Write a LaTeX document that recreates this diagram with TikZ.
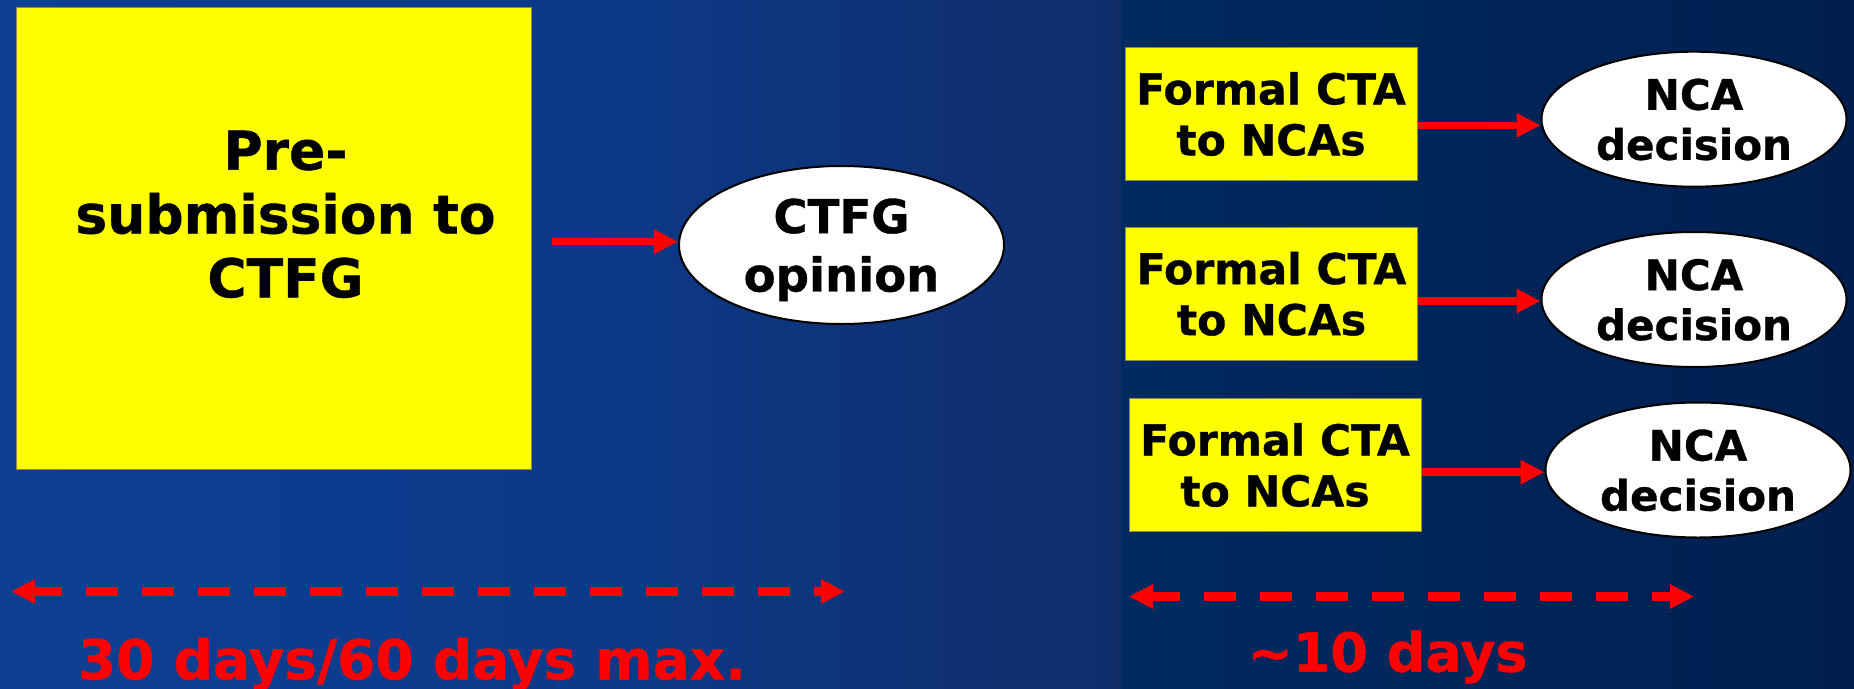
\documentclass[tikz,border=0pt]{standalone}
\usepackage{fontspec}
\setmainfont{DejaVu Sans}[BoldFeatures={FakeBold=0.8}]
\usetikzlibrary{arrows.meta,shapes.geometric}
\definecolor{bgA}{RGB}{13,63,147}
\definecolor{bgB}{RGB}{12,58,138}
\definecolor{bgC}{RGB}{16,45,106}
\definecolor{bgD}{RGB}{0,42,97}
\definecolor{bgE}{RGB}{0,31,79}
\definecolor{boxy}{RGB}{255,255,0}
\definecolor{boxedge}{RGB}{140,140,70}
\definecolor{arrred}{RGB}{255,0,0}
\begin{document}
\begin{tikzpicture}[x=1pt,y=-1pt,
  ybox/.style={rectangle, fill=boxy, draw=boxedge, line width=1pt, inner sep=0pt},
  ctabox/.style={ybox, minimum width=292pt, minimum height=133pt, align=center,
    text depth=0pt, font=\fontsize{42.5}{51}\selectfont\bfseries},
  oval/.style={ellipse, fill=white, draw=black, line width=2pt, inner sep=0pt,
    align=center, text depth=0pt},
  ncaoval/.style={oval, minimum width=305pt, minimum height=135pt,
    font=\fontsize{42}{50}\selectfont\bfseries},
  redarrow/.style={draw=arrred, line width=7.5pt, -{Triangle[length=24pt,width=23pt]}},
  dasharrow/.style={draw=arrred, line width=8.3pt,
    {Triangle[length=24pt,width=23pt]}-{Triangle[length=24pt,width=23pt]},
    dash pattern=on 32pt off 24pt, dash phase=4pt},
  daylabel/.style={text=arrred, anchor=base, inner sep=0pt,
    font=\fontsize{54}{65}\selectfont\bfseries}
]
\useasboundingbox (0,0) rectangle (1854,688);
% background
\shade[left color=bgA, right color=bgC, middle color=bgB] (0,0) rectangle (1121,688);
\shade[left color=bgD, right color=bgE] (1121,0) rectangle (1854,688);

% left part
\node[ybox, minimum width=515pt, minimum height=462pt] (pre) at (273.5,238) {};
\node[align=center, inner sep=0pt, text depth=0pt,
  font=\fontsize{53.5}{63.8}\selectfont\bfseries] (pretext) at (285.5,214)
  {Pre-\\submission to\\CTFG};
\node[oval, minimum width=325pt, minimum height=158pt,
  font=\fontsize{46.6}{58.4}\selectfont\bfseries] (ctfg) at (841.5,245) {CTFG\\opinion};

\coordinate (p0) at ([yshift=-3.7pt]pre.east);
\draw[redarrow, shorten <=20pt] (p0) -- (p0 -| ctfg.west);

% right part
\node[ctabox] (b1) at (1271,113.7) {Formal CTA\\to NCAs};
\node[ctabox] (b2) at (1271.5,293.5) {Formal CTA\\to NCAs};
\node[ctabox] (b3) at (1275,464.7) {Formal CTA\\to NCAs};

\node[ncaoval] (e1) at (1694,119.2) {NCA\\decision};
\node[ncaoval] (e2) at (1694,299.5) {NCA\\decision};
\node[ncaoval] (e3) at (1698,470) {NCA\\decision};

\coordinate (q1) at ([yshift=-11.6pt]b1.east);
\coordinate (q2) at ([yshift=-7.5pt]b2.east);
\coordinate (q3) at ([yshift=-7.5pt]b3.east);
\draw[redarrow] (q1) -- (q1 -| e1.west);
\draw[redarrow] (q2) -- (q2 -| e2.west);
\draw[redarrow] (q3) -- (q3 -| e3.west);

% durations
\coordinate (d1a) at (11,591.5);
\coordinate (d1b) at (845,591.5);
\draw[dasharrow] (d1a) -- (d1b);
\coordinate (d2a) at (1129,596.5);
\coordinate (d2b) at (1694,596.5);
\draw[dasharrow] (d2a) -- (d2b);

\node[daylabel, font=\fontsize{55}{66}\selectfont\bfseries] (t1) at (412,679.3) {30 days/60 days max.};
\node[daylabel] (t2) at (1387.5,671.7) {\textasciitilde10 days};
\end{tikzpicture}
\end{document}
